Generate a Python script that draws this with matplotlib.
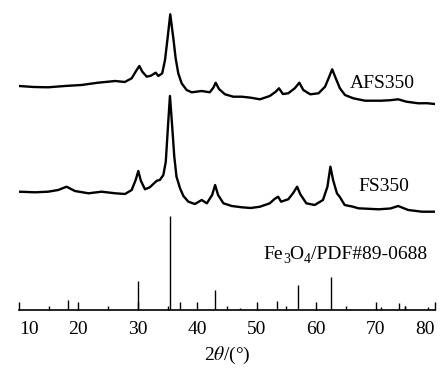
#!/usr/bin/env python3
"""XRD patterns of FS350 / AFS350 with the Fe3O4 reference card (PDF#89-0688)."""
import matplotlib
matplotlib.use("Agg")
import matplotlib.pyplot as plt

plt.rcParams["font.family"] = ["Liberation Serif", "DejaVu Serif"]
plt.rcParams["mathtext.fontset"] = "stix"

# AFS350 pattern (2theta, intensity a.u.)
afs_2theta = [10.0, 12.5, 14.9, 17.7, 20.5, 23.3, 26.2, 27.8, 28.96, 29.8,
              30.25, 30.75, 31.5, 32.2, 33.0, 33.45, 34.1, 34.57, 35.0, 35.45,
              35.97, 36.36, 36.8, 37.37, 38.2, 39.06, 40.74, 42.1, 42.7, 43.1,
              43.65, 44.66, 46.06, 47.5, 49.0, 50.55, 52.2, 53.2, 53.75, 54.4,
              55.3, 56.4, 57.17, 57.84, 59.0, 60.4, 61.5, 62.2, 62.7, 63.3,
              64.0, 64.85, 66.25, 68.2, 71.0, 72.5, 73.8, 75.2, 77.2, 78.6, 80.0]
afs_int = [24.0, 23.0, 22.7, 24.0, 25.0, 27.3, 29.0, 28.0, 31.7, 40.0,
           44.0, 38.3, 33.3, 34.3, 37.3, 34.0, 36.7, 50.0, 71.7, 95.7,
           71.7, 51.7, 36.7, 26.7, 20.0, 17.7, 19.0, 17.7, 22.3, 27.3,
           21.0, 15.7, 13.3, 13.3, 12.3, 10.7, 14.0, 18.3, 21.7, 16.0,
           16.7, 21.7, 27.3, 20.0, 15.7, 16.7, 23.3, 33.3, 40.7, 31.7,
           21.7, 15.0, 11.7, 9.3, 9.3, 9.8, 10.7, 8.3, 6.7, 6.8, 6.0]

# FS350 pattern
fs_2theta = [10.0, 12.7, 14.9, 16.6, 18.0, 19.4, 21.7, 23.9, 26.2, 27.84,
             28.96, 29.63, 30.08, 30.5, 31.2, 32.0, 33.2, 33.7, 34.29, 34.7,
             35.1, 35.4, 35.74, 36.13, 36.5, 37.1, 37.66, 38.5, 39.6, 40.74,
             41.6, 42.5, 43.0, 43.5, 44.4, 45.8, 47.5, 49.0, 50.55, 52.2,
             53.0, 53.6, 54.1, 55.3, 56.1, 56.8, 57.34, 58.35, 59.75, 61.15,
             61.9, 62.4, 62.85, 63.5, 63.95, 64.8, 66.2, 67.1, 70.5, 72.5,
             73.8, 75.5, 77.8, 80.0]
fs_int = [23.3, 22.7, 23.3, 25.0, 28.3, 24.0, 21.7, 23.3, 21.7, 21.0,
          25.0, 35.0, 44.0, 34.3, 25.7, 27.7, 34.3, 35.0, 40.0, 53.3,
          91.7, 119.0, 91.7, 58.3, 38.3, 26.7, 19.0, 13.3, 11.0, 15.0,
          11.7, 20.0, 30.0, 20.0, 11.7, 9.0, 7.7, 7.0, 8.3, 11.7,
          16.0, 18.3, 13.3, 15.7, 21.7, 28.3, 20.7, 11.7, 10.0, 15.0,
          28.3, 48.3, 35.0, 21.7, 18.3, 10.0, 8.3, 6.7, 5.7, 6.5,
          9.0, 5.0, 3.3, 3.3]

# Fe3O4 PDF#89-0688 reference lines
pdf_2theta = [18.27, 30.06, 35.40, 37.03, 43.03, 47.13, 53.38, 56.90, 62.49,
              65.69, 70.91, 73.94, 74.94, 78.88]
pdf_int = [10.0, 29.0, 94.0, 8.3, 20.0, 2.0, 9.0, 25.0, 33.0,
           1.5, 3.0, 7.0, 4.0, 3.0]

afs_offset = 200
fs_offset = 95

# card label, written piece by piece so the subscripts sit low like the original
card_pieces = [("Fe", 14, 0.0), ("3", 10, -2.4), ("O", 14, 2.4),
               ("4", 10, -2.4), ("/PDF#89-0688", 14, 2.4)]


def main() -> None:
    fig = plt.figure(figsize=(4.43, 3.70), dpi=100)
    ax = fig.add_axes([19 / 443, 60 / 370, 416 / 443, 305 / 370])

    ax.plot(afs_2theta, [v + afs_offset for v in afs_int], color="black", lw=1.7)
    ax.plot(fs_2theta, [v + fs_offset for v in fs_int], color="black", lw=1.7)
    ax.vlines(pdf_2theta, 0, pdf_int, color="black", lw=1.0)

    ax.text(65.7, 222, "AFS350", fontsize=14, va="baseline")
    ax.text(67.1, 119, "FS350", fontsize=14, va="baseline")

    prev = None
    for s, size, dy in card_pieces:
        if prev is None:
            prev = ax.text(51.1, 47, s, fontsize=size, va="bottom", ha="left")
        else:
            prev = ax.annotate(s, xy=(1, 0), xycoords=prev, xytext=(0, dy),
                               textcoords="offset points", fontsize=size,
                               va="bottom", ha="left")

    ax.set_xlim(10, 80)
    ax.set_ylim(0, 305)
    ax.set_xticks(range(10, 81, 10))
    ax.set_xticks(range(15, 80, 10), minor=True)
    ax.set_yticks([])
    for side in ("left", "right", "top"):
        ax.spines[side].set_visible(False)
    ax.spines["bottom"].set_linewidth(1.2)
    ax.tick_params(axis="x", which="major", direction="in", length=6, width=1.0,
                   labelsize=14, pad=8)
    ax.tick_params(axis="x", which="minor", direction="in", length=3, width=1.0)
    labels = ax.get_xticklabels()
    labels[0].set_ha("left")
    labels[-1].set_ha("right")
    ax.set_xlabel(r"2$\it{\theta}$/(°)", fontsize=14, labelpad=5)

    fig.savefig("out.png", dpi=100)


if __name__ == "__main__":
    main()
